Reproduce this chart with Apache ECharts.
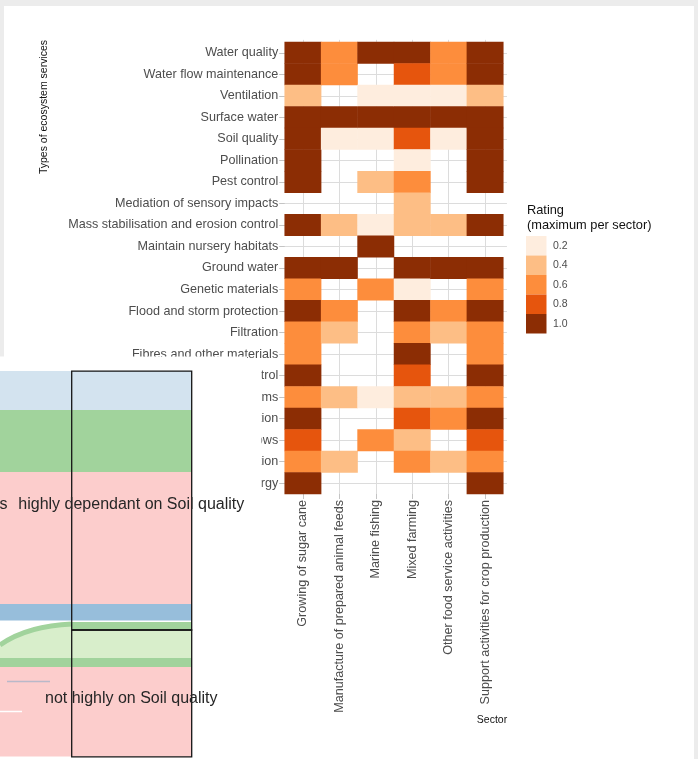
<!DOCTYPE html>
<html>
<head>
<meta charset="utf-8">
<script src="https://cdn.jsdelivr.net/npm/echarts@6/dist/echarts.min.js"></script>
<style>
  html, body { margin: 0; padding: 0; background: #ececec; }
  #chart { width: 698px; height: 759px; }
</style>
</head>
<body>
<div id="chart"></div>
<script>
// Ecosystem services, listed top to bottom
const services = [
  'Water quality', 'Water flow maintenance', 'Ventilation', 'Surface water',
  'Soil quality', 'Pollination', 'Pest control', 'Mediation of sensory impacts',
  'Mass stabilisation and erosion control', 'Maintain nursery habitats',
  'Ground water', 'Genetic materials', 'Flood and storm protection', 'Filtration',
  'Fibres and other materials', 'Disease control',
  'Dilution by atmosphere and ecosystems', 'Climate regulation',
  'Buffering and attenuation of mass flows', 'Bio-remediation', 'Animal-based energy'
];

const sectors = [
  'Growing of sugar cane', 'Manufacture of prepared animal feeds', 'Marine fishing',
  'Mixed farming', 'Other food service activities', 'Support activities for crop production'
];

// Maximum rating per sector, one value per service (null = no dependency)
const growingSugarCane  = [1, 1, 0.4, 1, 1, 1, 1, null, 1, null, 1, 0.6, 1, 0.6, 0.6, 1, 0.6, 1, 0.8, 0.6, 1];
const animalFeeds       = [0.6, 0.6, null, 1, 0.2, null, null, null, 0.4, null, 1, null, 0.6, 0.4, null, null, 0.4, null, null, 0.4, null];
const marineFishing     = [1, null, 0.2, 1, 0.2, null, 0.4, null, 0.2, 1, null, 0.6, null, null, null, null, 0.2, null, 0.6, null, null];
const mixedFarming      = [1, 0.8, 0.2, 1, 0.8, 0.2, 0.6, 0.4, 0.4, null, 1, 0.2, 1, 0.6, 1, 0.8, 0.4, 0.8, 0.4, 0.6, null];
const otherFoodService  = [0.6, 0.6, 0.2, 1, 0.2, null, null, null, 0.4, null, 1, null, 0.6, 0.4, null, null, 0.4, 0.6, null, 0.4, null];
const supportCropProd   = [1, 1, 0.4, 1, 1, 1, 1, null, 1, null, 1, 0.6, 1, 0.6, 0.6, 1, 0.6, 1, 0.8, 0.6, 1];

const ratingLevels = [0.2, 0.4, 0.6, 0.8, 1.0];
const ratingLabels = ['0.2', '0.4', '0.6', '0.8', '1.0'];
const ratingColors = ['#feedde', '#fdbe85', '#fd8d3c', '#e6550d', '#8c2d04'];

const sectorValues = [growingSugarCane, animalFeeds, marineFishing, mixedFarming, otherFoodService, supportCropProd];

const cells = [];
sectorValues.forEach(function (col, xi) {
  col.forEach(function (v, yi) {
    if (v !== null) cells.push([xi, yi, v]);
  });
});

const FONT = 'Liberation Sans, Arial, Helvetica, sans-serif';

const chart = echarts.init(document.getElementById('chart'), null, { renderer: 'canvas' });

// tile area and the slightly larger plotting panel around it
const tile = { left: 284.7, top: 42, width: 218.6, height: 452 };
const colW = tile.width / sectors.length;
const rowH = tile.height / services.length;
const panel = {
  left: tile.left - 0.1 * colW,
  top: tile.top - 0.1 * rowH,
  width: tile.width + 0.2 * colW,
  height: tile.height + 0.2 * rowH
};

// curved flow edge in the inset diagram
const flowCurve = { x1: 0, y1: 645, cpx1: 20, cpy1: 631, cpx2: 45, cpy2: 625, x2: 72, y2: 624 };
function curvePoints(c, n) {
  const pts = [];
  for (let i = 0; i <= n; i++) {
    const t = i / n, u = 1 - t;
    pts.push([
      u * u * u * c.x1 + 3 * u * u * t * c.cpx1 + 3 * u * t * t * c.cpx2 + t * t * t * c.x2,
      u * u * u * c.y1 + 3 * u * u * t * c.cpy1 + 3 * u * t * t * c.cpy2 + t * t * t * c.y2
    ]);
  }
  return pts;
}
const flowFill = curvePoints(flowCurve, 24).concat([[72, 658.5], [0, 658.5]]);

const pink = '#fccdcc';
const midGreen = '#a1d39c';

// inset diagram laid over the lower left corner (drawn above the axes)
const inset = [
  { type: 'rect', shape: { x: 0, y: 356.5, width: 247, height: 402.5 }, style: { fill: '#ffffff' } },
  { type: 'rect', shape: { x: 246, y: 364.5, width: 15.5, height: 394.5 }, style: { fill: '#ffffff' } },
  { type: 'rect', shape: { x: 0, y: 371, width: 192, height: 39.5 }, style: { fill: '#d3e3ef' } },
  { type: 'rect', shape: { x: 0, y: 410, width: 192, height: 62.5 }, style: { fill: midGreen } },
  { type: 'rect', shape: { x: 0, y: 472, width: 192, height: 132 }, style: { fill: pink } },
  { type: 'rect', shape: { x: 0, y: 604, width: 192, height: 16.5 }, style: { fill: '#97bedb' } },
  { type: 'rect', shape: { x: 72, y: 622, width: 120, height: 8 }, style: { fill: midGreen } },
  { type: 'rect', shape: { x: 72, y: 630, width: 120, height: 28.5 }, style: { fill: '#d8eecb' } },
  { type: 'polygon', shape: { points: flowFill }, style: { fill: '#d8eecb' } },
  { type: 'bezierCurve', shape: flowCurve, style: { fill: null, stroke: midGreen, lineWidth: 5 } },
  { type: 'rect', shape: { x: 0, y: 658, width: 192, height: 9.5 }, style: { fill: midGreen } },
  { type: 'rect', shape: { x: 0, y: 667, width: 192, height: 89.5 }, style: { fill: pink } },
  { type: 'line', shape: { x1: 7, y1: 681.5, x2: 50, y2: 681.5 }, style: { stroke: '#b9b9c9', lineWidth: 1.3 } },
  { type: 'line', shape: { x1: 0, y1: 711.5, x2: 22, y2: 711.5 }, style: { stroke: '#ffffff', lineWidth: 1.5 } },
  { type: 'rect', shape: { x: 71.7, y: 371.2, width: 120, height: 258.8 }, style: { fill: null, stroke: '#151515', lineWidth: 1.3 } },
  { type: 'rect', shape: { x: 71.7, y: 630, width: 120, height: 126.8 }, style: { fill: null, stroke: '#151515', lineWidth: 1.3 } },
  { type: 'text', x: 7.5, y: 504.5,
    style: { text: 's', font: '16px ' + FONT, fill: '#262626', align: 'right', verticalAlign: 'middle' } },
  { type: 'text', x: 18.3, y: 504.5,
    style: { text: 'highly dependant on Soil quality', font: '16px ' + FONT, fill: '#262626', align: 'left', verticalAlign: 'middle' } },
  { type: 'text', x: 45, y: 698.5,
    style: { text: 'not highly on Soil quality', font: '16px ' + FONT, fill: '#262626', align: 'left', verticalAlign: 'middle' } }
].map(function (el, i) {
  el.z = 100;
  el.z2 = i;
  el.silent = true;
  return el;
});

chart.setOption({
  backgroundColor: 'transparent',
  animation: false,
  textStyle: { fontFamily: FONT },
  grid: [
    { left: tile.left, top: tile.top, width: tile.width, height: tile.height, containLabel: false },
    { left: panel.left, top: panel.top, width: panel.width, height: panel.height, containLabel: false }
  ],
  xAxis: [
    {
      type: 'category', gridIndex: 0, data: sectors,
      axisLine: { show: false },
      axisTick: { show: true, alignWithLabel: true, length: 5, lineStyle: { color: '#c4c4c4' } },
      axisLabel: { rotate: 90, margin: 6, fontSize: 12.6, color: '#4d4d4d', fontFamily: FONT, interval: 0 },
      splitLine: { show: false }
    },
    {
      type: 'value', gridIndex: 1, min: -0.6, max: sectors.length - 0.4, splitNumber: 6,
      axisLine: { show: false }, axisTick: { show: false }, axisLabel: { show: false },
      splitLine: { show: true, showMinLine: false, showMaxLine: false, lineStyle: { color: '#dcdcdc', width: 1 } }
    }
  ],
  yAxis: [
    {
      type: 'category', gridIndex: 0, data: services, inverse: true,
      axisLine: { show: false },
      axisTick: { show: true, alignWithLabel: true, length: 5.5, lineStyle: { color: '#c4c4c4' } },
      axisLabel: { margin: 6.5, fontSize: 12.6, color: '#4d4d4d', fontFamily: FONT, interval: 0 },
      splitLine: { show: false }
    },
    {
      type: 'value', gridIndex: 1, min: -0.6, max: services.length - 0.4, splitNumber: 21,
      axisLine: { show: false }, axisTick: { show: false }, axisLabel: { show: false },
      splitLine: { show: true, showMinLine: false, showMaxLine: false, lineStyle: { color: '#dcdcdc', width: 1 } }
    }
  ],
  visualMap: {
    type: 'piecewise',
    seriesIndex: 0,
    dimension: 2,
    pieces: ratingLevels.map(function (v, i) {
      return { value: v, label: ratingLabels[i], color: ratingColors[i] };
    }),
    inverse: true,
    orient: 'vertical',
    align: 'left',
    left: 526,
    top: 236,
    padding: 0,
    itemWidth: 20.5,
    itemHeight: 19.5,
    itemGap: 0,
    itemSymbol: 'rect',
    textGap: 6.5,
    selectedMode: false,
    hoverLink: false,
    textStyle: { fontSize: 10.5, color: '#4d4d4d', fontFamily: FONT }
  },
  series: [{
    type: 'heatmap',
    xAxisIndex: 0,
    yAxisIndex: 0,
    data: cells,
    itemStyle: { borderWidth: 0 },
    emphasis: { disabled: true },
    label: { show: false }
  }],
  graphic: [
    // white page behind the plot
    { type: 'rect', z: -100, shape: { x: 4, y: 6, width: 690, height: 753 }, style: { fill: '#ffffff' }, silent: true },
    // axis and legend titles
    { type: 'text', x: 44, y: 107, rotation: Math.PI / 2,
      style: { text: 'Types of ecosystem services', font: '10.5px ' + FONT, fill: '#111', align: 'center', verticalAlign: 'middle' } },
    { type: 'text', x: 492, y: 720,
      style: { text: 'Sector', font: '10.5px ' + FONT, fill: '#111', align: 'center', verticalAlign: 'middle' } },
    { type: 'text', x: 527, y: 202.5,
      style: { text: 'Rating\n(maximum per sector)', font: '12.8px ' + FONT, lineHeight: 15.5, fill: '#111', align: 'left', verticalAlign: 'top' } }
  ].concat(inset)
});
</script>
</body>
</html>
